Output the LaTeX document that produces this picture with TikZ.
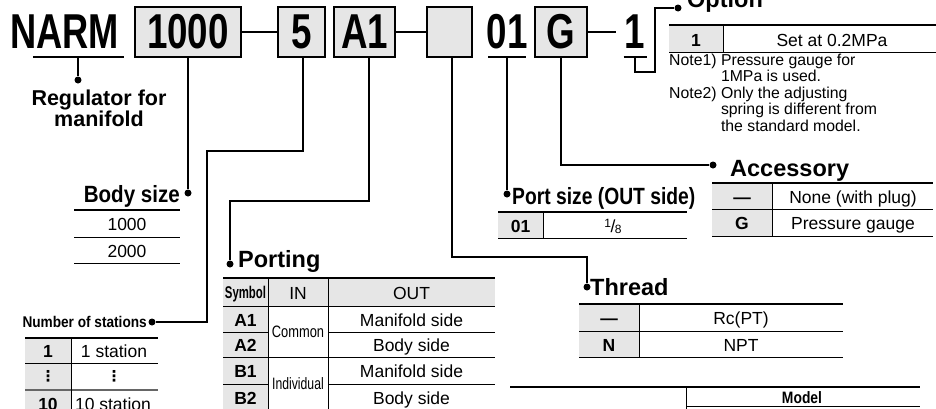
\documentclass[tikz,border=0pt]{standalone}
\usepackage{fontspec}
\setmainfont{Liberation Sans}
\newfontfamily\symfont{DejaVu Sans}
\usepackage{graphicx}
\definecolor{keygray}{RGB}{230,230,230}
\newcommand\cond[2][0.8]{\scalebox{#1}[1]{#2}}
\newcommand\codefont{\fontsize{49}{50}\selectfont\bfseries}
\newcommand\headfont{\fontsize{23.5}{24}\selectfont\bfseries}
\newcommand\cellfont{\fontsize{17.5}{19}\selectfont}
\newcommand\keyfont{\fontsize{17.5}{19}\selectfont\bfseries}
\newcommand\notefont{\fontsize{15.8}{16.5}\selectfont}
\newcommand\condfont{\fontsize{16.5}{17}\selectfont}
\begin{document}
\begin{tikzpicture}
  [
  x=1pt, y=-1pt,
  codebox/.style={rectangle,draw,line width=1.6pt,fill=keygray,inner sep=0pt,minimum height=50pt,font=\codefont},
  code/.style={rectangle,inner sep=0pt,minimum height=50pt,font=\codefont},
  dot/.style={circle,fill,inner sep=0pt,minimum size=7pt},
  wire/.style={line width=1.8pt},
  head/.style={inner sep=0pt,font=\headfont},
  cell/.style={inner sep=0pt,anchor=base,font=\cellfont},
  key/.style={inner sep=0pt,anchor=base,font=\keyfont},
  rulethick/.style={line width=2.2pt},
  rulethin/.style={line width=0.8pt}
  ]
  \clip (0,0) rectangle (936,408);

  % model code
  \node (narm) at (64.5,32) [code] {\cond[0.74]{NARM}};
  \node (size) at (188,32) [codebox, minimum width=106pt] {\cond[0.75]{1000}};
  \node (stn) at (301.5,32) [codebox, minimum width=47pt] {\cond[0.75]{5}};
  \node (port) at (364.5,32) [codebox, minimum width=61pt] {\cond[0.75]{A1}};
  \node (thr) at (449.5,32) [codebox, minimum width=45pt] {};
  \node (out) at (507,32) [code, minimum width=38pt] {\cond[0.75]{01}};
  \node (acc) at (561,32) [codebox, minimum width=52pt] {\cond[0.75]{G}};
  \node (opt) at (635,32) [code, minimum width=38pt] {\cond[0.75]{1}};
  \draw [wire] (size) to (stn);
  \draw [wire] (port) to (thr);
  \draw [wire] (acc) to (opt);
  \draw [wire] ([xshift=23pt]narm.south west) to ([xshift=5pt]narm.south east);
  \draw [wire] ([xshift=-19pt]out.south) to ([xshift=19pt]out.south);
  \draw [wire] ([xshift=-11.5pt]opt.south) to ([xshift=11.5pt]opt.south);

  % dots and leaders
  \node (dreg) at (78,80) [dot] {};
  \node (dsize) at (188,193) [dot] {};
  \node (dstn) at (152,322) [dot] {};
  \node (dport) at (230,264) [dot] {};
  \node (dthr) at (587,287) [dot] {};
  \node (dout) at (507,194) [dot] {};
  \node (dacc) at (713,165) [dot] {};
  \node (dopt) at (678,8) [dot] {};
  \draw [wire] (narm.south -| dreg) to (dreg);
  \draw [wire] (size) to (dsize);
  \draw [wire] ([xshift=1.5pt]stn.south) |- (207,151) |- (dstn);
  \draw [wire] ([xshift=4.5pt]port.south) |- (230,201) -- (dport);
  \draw [wire] ([xshift=2.5pt]thr.south) |- (587,257) -- (dthr);
  \draw [wire] (out) to (dout);
  \draw [wire] (acc.south) |- (dacc);
  \draw [wire] (opt.south) |- (655,72) |- (dopt);

  % headings
  \node (lreg) at (99,89.4) [inner sep=0pt, anchor=north, align=center,
    font=\fontsize{21.5}{20}\selectfont\bfseries] {Regulator for\\manifold};
  \node (lsize) at (180,202) [head, anchor=base east] {\cond[0.875]{Body size}};
  \node (lstn) at (147,327) [inner sep=0pt, anchor=base east,
    font=\fontsize{15.5}{16}\selectfont\bfseries] {\cond[0.88]{Number of stations}};
  \node (lport) at (238,267) [head, anchor=base west] {Porting};
  \node (lthr) at (590,295) [head, anchor=base west] {Thread};
  \node (lout) at (512,204) [head, anchor=base west] {\cond[0.82]{Port size (OUT side)}};
  \node (lacc) at (730,176) [head, anchor=base west] {Accessory};
  \node (lopt) at (687,7) [head, anchor=base west] {Option};

  % option table
  \fill [keygray] (669,25) rectangle (723,52);
  \draw [rulethick] (669,25) -- (936,25);
  \draw [rulethin] (669,52) -- (936,52);
  \draw [rulethin] (723,25) -- (723,52);
  \node (o1) at (696,46) [key] {1};
  \node (o1v) at (832,46) [cell] {Set at 0.2MPa};
  \node (notes) at (669,53.5) [inner sep=0pt, anchor=north west, font=\notefont]
    {\begin{tabular}{@{}l@{ }l@{}}
      Note1) & Pressure gauge for\\
             & 1MPa is used.\\
      Note2) & Only the adjusting\\
             & spring is different from\\
             & the standard model.
     \end{tabular}};

  % port size table
  \fill [keygray] (498,212) rectangle (543,238);
  \draw [rulethick] (498,212) -- (687,212);
  \draw [rulethin] (498,238) -- (687,238);
  \draw [rulethin] (543,212) -- (543,238);
  \node (p01) at (520.5,232) [key] {01};
  \node (p01v) at (613,232) [cell] {\raisebox{5pt}{\fontsize{12}{12}\selectfont 1}\kern-0.5pt/\kern-0.5pt\raisebox{-1.5pt}{\fontsize{12}{12}\selectfont 8}};

  % accessory table
  \fill [keygray] (712,183) rectangle (772,236);
  \draw [rulethick] (712,183) -- (933,183);
  \draw [rulethin] (712,209) -- (933,209);
  \draw [rulethin] (712,236) -- (933,236);
  \draw [rulethin] (772,183) -- (772,236);
  \node (a0) at (742,203) [key] {—};
  \node (a0v) at (853,203) [cell] {None (with plug)};
  \node (ag) at (742,229.5) [key] {G};
  \node (agv) at (853,229.5) [cell] {Pressure gauge};

  % body size table
  \draw [rulethick] (74,210) -- (180,210);
  \draw [rulethin] (74,237) -- (180,237);
  \draw [rulethin] (74,263) -- (180,263);
  \node (b1) at (127,230.5) [cell] {1000};
  \node (b2) at (127,257) [cell] {2000};

  % stations table
  \fill [keygray] (25,338) rectangle (71,412);
  \draw [rulethick] (25,338) -- (158,338);
  \draw [rulethin] (25,363) -- (158,363);
  \draw [line width=1.4pt, black!60] (25,390) -- (158,390);
  \draw [rulethin] (71,338) -- (71,412);
  \node (s1) at (48,357.5) [key] {1};
  \node (s1v) at (114,357.5) [cell] {1 station};
  \node (sd) at (48,376.5) [inner sep=0pt, font=\fontsize{15}{15}\selectfont\symfont\bfseries] {⋮};
  \node (sdv) at (114,376.5) [inner sep=0pt, font=\fontsize{15}{15}\selectfont\symfont\bfseries] {⋮};
  \node (s10) at (48,410) [key] {10};
  \node (s10v) at (113,410) [cell] {10 station};

  % porting table
  \fill [keygray] (223,278) rectangle (495,306.5);
  \fill [keygray] (223,306.5) rectangle (268,412);
  \draw [rulethick] (223,278) -- (495,278);
  \draw [rulethin] (223,306.5) -- (495,306.5);
  \draw [rulethin] (223,332) -- (268,332) (328,332) -- (495,332);
  \draw [rulethin] (223,357) -- (495,357);
  \draw [rulethin] (223,384) -- (268,384) (328,384) -- (495,384);
  \draw [rulethin] (268,278) -- (268,412) (328,278) -- (328,412);
  \node (ph0) at (245.5,298.5) [key, font=\fontsize{17}{18}\selectfont\bfseries] {\cond[0.67]{Symbol}};
  \node (ph1) at (298,299) [cell] {IN};
  \node (ph2) at (411.5,299) [cell] {OUT};
  \node (pa1) at (245.5,326) [key] {A1};
  \node (pa1v) at (411.5,326) [cell] {Manifold side};
  \node (pa2) at (245.5,351.5) [key] {A2};
  \node (pa2v) at (411.5,351.5) [cell] {Body side};
  \node (pb1) at (245.5,377.5) [key] {B1};
  \node (pb1v) at (411.5,377.5) [cell] {Manifold side};
  \node (pb2) at (245.5,404) [key] {B2};
  \node (pb2v) at (411.5,404) [cell] {Body side};
  \node (pcom) at (298,337.5) [cell, font=\condfont] {\cond[0.78]{Common}};
  \node (pind) at (298,389.5) [cell, font=\condfont] {\cond[0.74]{Individual}};

  % thread table
  \fill [keygray] (579,304) rectangle (639,357);
  \draw [rulethick] (579,304) -- (843,304);
  \draw [rulethin] (579,331) -- (843,331);
  \draw [rulethin] (579,357) -- (843,357);
  \draw [rulethin] (639,304) -- (639,357);
  \node (t0) at (609,324.5) [key] {—};
  \node (t0v) at (741,324.5) [cell] {Rc(PT)};
  \node (tn) at (609,351) [key] {N};
  \node (tnv) at (741,351) [cell] {NPT};

  % model table
  \draw [line width=1.2pt] (510,387) -- (920,387);
  \draw [rulethin] (686,387) -- (686,410);
  \draw [rulethin] (686,406) -- (920,406);
  \node (mdl) at (802,403) [key, font=\fontsize{16.5}{17}\selectfont\bfseries] {\cond[0.84]{Model}};
\end{tikzpicture}
\end{document}
